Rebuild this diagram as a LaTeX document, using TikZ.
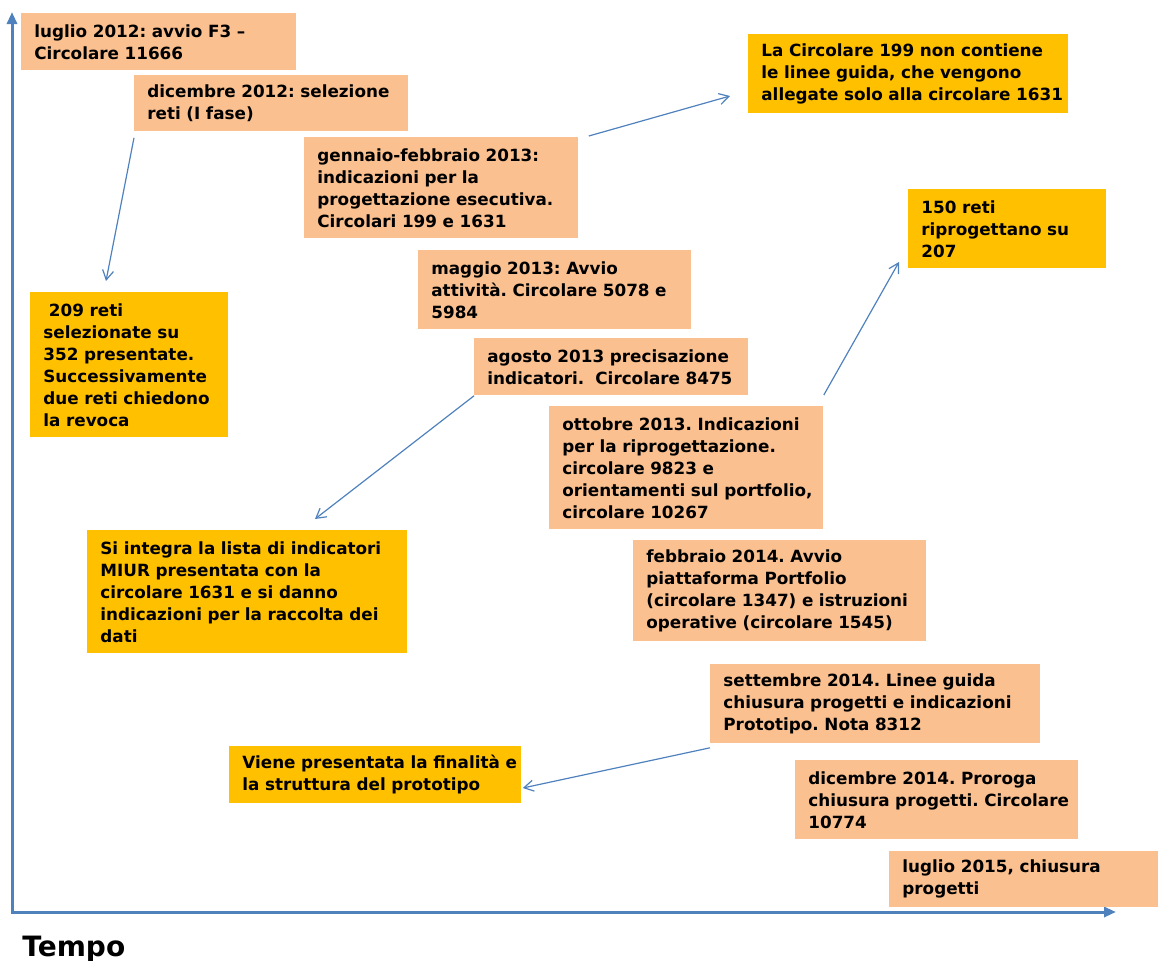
\documentclass[tikz,border=0pt]{standalone}
\usepackage{fontspec}
\setmainfont{DejaVu Sans}
\usetikzlibrary{arrows.meta,calc}

\definecolor{arancio}{HTML}{FAC090}
\definecolor{oro}{HTML}{FFC000}
\definecolor{linea}{HTML}{4F81BD}

\begin{document}
\begin{tikzpicture}
  [x=0.5pt,y=-0.5pt,
   tappa/.style 2 args={anchor=north west,fill=arancio,inner xsep=6.5pt,inner ysep=0pt,
     text width=#1,minimum height=#2,
     font=\bfseries\fontsize{8.4}{11}\selectfont,
     execute at begin node={\frenchspacing\hyphenpenalty=10000\rightskip=0pt plus 1fil minus 30pt}},
   esito/.style 2 args={tappa={#1}{#2},fill=oro},
   link/.style={draw=linea,line width=0.6pt,-{Straight Barb[angle=60:5.5pt]}},
   asse/.style={draw=linea,line width=1.5pt,{Triangle[length=6pt,width=5pt]}-{Triangle[length=6pt,width=5pt]}}]
  \useasboundingbox (0,0) rectangle (1158,960);

  % assi
  \coordinate (origine) at (12,912);
  \coordinate (cima) at (12,12);
  \coordinate (fine) at (1116,912);
  \draw[asse] (cima) -- (origine) -- (fine);
  \node[anchor=base west,inner sep=0pt,font=\bfseries\fontsize{14}{16}\selectfont] (tempo) at (22,956) {Tempo};

  % tappe
  \node[tappa={124.5pt}{28.5pt}] (lug12) at (21,13) {luglio 2012: avvio F3 –\\Circolare 11666};
  \node[tappa={124pt}{28pt}] (dic12) at (134,75) {dicembre 2012: selezione\\reti (I fase)};
  \node[tappa={124pt}{50.5pt}] (genfeb13) at (304,137) {gennaio-febbraio 2013:\\indicazioni per la\\progettazione esecutiva.\\Circolari 199 e 1631};
  \node[tappa={123.5pt}{39.5pt}] (mag13) at (418,250) {maggio 2013: Avvio\\attività. Circolare 5078 e\\5984};
  \node[tappa={124pt}{28.5pt}] (ago13) at (474,338) {agosto 2013 precisazione\\indicatori.~ Circolare 8475};
  \node[tappa={124pt}{61.5pt}] (ott13) at (549,406) {ottobre 2013. Indicazioni\\per la riprogettazione.\\circolare 9823 e\\orientamenti sul portfolio,\\circolare 10267};
  \node[tappa={133.5pt}{50.5pt}] (feb14) at (633,540) {febbraio 2014. Avvio\\piattaforma Portfolio\\(circolare 1347) e istruzioni\\operative (circolare 1545)};
  \node[tappa={152pt}{39.5pt}] (set14) at (710,664) {settembre 2014. Linee guida\\chiusura progetti e indicazioni\\Prototipo. Nota 8312};
  \node[tappa={128.5pt}{39.5pt}] (dic14) at (795,760) {dicembre 2014. Proroga\\chiusura progetti. Circolare\\10774};
  \node[tappa={121.5pt}{28pt}] (lug15) at (889,851) {luglio 2015, chiusura\\progetti};

  % esiti
  \node[esito={147pt}{39.5pt}] (circ199) at (748,34) {La Circolare 199 non contiene\\le linee guida, che vengono\\allegate solo alla circolare 1631};
  \node[esito={86pt}{39.5pt}] (reti150) at (908,189) {150 reti\\riprogettano su\\207};
  \node[esito={86pt}{72.5pt}] (reti209) at (30,292) {~209 reti\\selezionate su\\352 presentate.\\Successivamente\\due reti chiedono\\la revoca};
  \node[esito={147pt}{61.5pt}] (integra) at (87,530) {Si integra la lista di indicatori\\MIUR presentata con la\\circolare 1631 e si danno\\indicazioni per la raccolta dei\\dati};
  \node[esito={133pt}{28.5pt}] (prototipo) at (229,746) {Viene presentata la finalità e\\la struttura del prototipo};

  % collegamenti
  \draw[link] ($(dic12.south west)+(0,6)$) -- ($(reti209.north west)+(76,-11)$);
  \draw[link] ($(genfeb13.north east)+(10,-1)$) -- ($(circ199.north west)+(-18,62)$);
  \draw[link] (ago13.south west) -- ($(integra.north west)+(228,-11)$);
  \draw[link] ($(ott13.north east)+(0,-11)$) -- ($(reti150.north west)+(-9,73)$);
  \draw[link] ($(set14.south west)+(0,4)$) -- ($(prototipo.north east)+(1,42)$);
\end{tikzpicture}
\end{document}
